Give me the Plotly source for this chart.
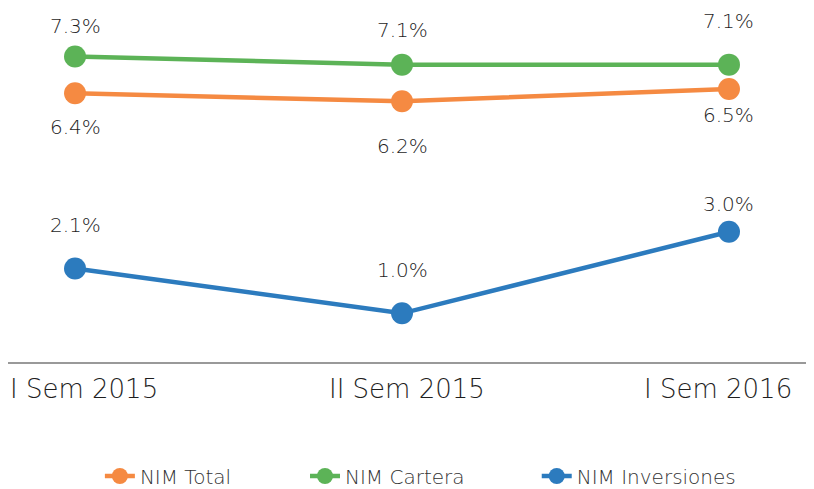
import plotly.graph_objects as go

categories = ["I Sem 2015", "II Sem 2015", "I Sem 2016"]
nim_total = [6.4, 6.2, 6.5]
nim_cartera = [7.3, 7.1, 7.1]
nim_inversiones = [2.1, 1.0, 3.0]

# label offsets (pixels) per point
off_total = [-34, -45, -26]
off_cartera = [30, 35, 44]
off_inv = [43, 43, 28]
# horizontal nudges of the category labels (pixels)
cat_shift = [9, 5, -11]

series = [
    ("NIM Total", nim_total, "#F58A42", off_total, "legend", 0.114),
    ("NIM Cartera", nim_cartera, "#5CB357", off_cartera, "legend2", 0.3685),
    ("NIM Inversiones", nim_inversiones, "#2C7BBE", off_inv, "legend3", 0.656),
]

label_font = dict(family="DejaVu Sans", size=20, color="#1e1e1e", weight=200)
legend_font = dict(family="DejaVu Sans", size=20, color="#333333", weight=200)

fig = go.Figure()
annotations = []
legends = {}
for name, vals, color, offs, lg, lx in series:
    fig.add_trace(go.Scatter(
        x=list(range(len(categories))), y=vals, name=name,
        mode="lines+markers",
        line=dict(color=color, width=4.5),
        marker=dict(color=color, size=22),
        legend=lg,
    ))
    legends[lg] = dict(orientation="h", x=lx, xanchor="left", y=-0.322, yanchor="middle",
                       font=legend_font, bgcolor="rgba(0,0,0,0)")
    for i, v in enumerate(vals):
        annotations.append(dict(
            x=i, y=v, text=f"{v:.1f}%", showarrow=False,
            yshift=offs[i], font=label_font,
        ))

for i, c in enumerate(categories):
    annotations.append(dict(
        x=i, xref="x", y=0, yref="paper", text=c, showarrow=False,
        yanchor="middle", yshift=-27, xshift=cat_shift[i],
        font=dict(family="DejaVu Sans", size=26, color="#1e1e1e", weight=200),
    ))

fig.update_layout(
    width=806, height=481,
    margin=dict(l=0, r=0, t=0, b=127, autoexpand=False),
    paper_bgcolor="white", plot_bgcolor="white",
    annotations=annotations,
    showlegend=True,
    xaxis=dict(
        range=[-0.205, 2.26], tickmode="array", automargin=False,
        tickvals=list(range(len(categories))), showticklabels=False,
        showgrid=False, zeroline=False, showline=True, linecolor="#999999", linewidth=2,
        ticks="",
    ),
    yaxis=dict(range=[-0.194, 8.489], visible=False, showgrid=False, zeroline=False,
               automargin=False),
    **legends,
)

fig.write_html("out.html")
